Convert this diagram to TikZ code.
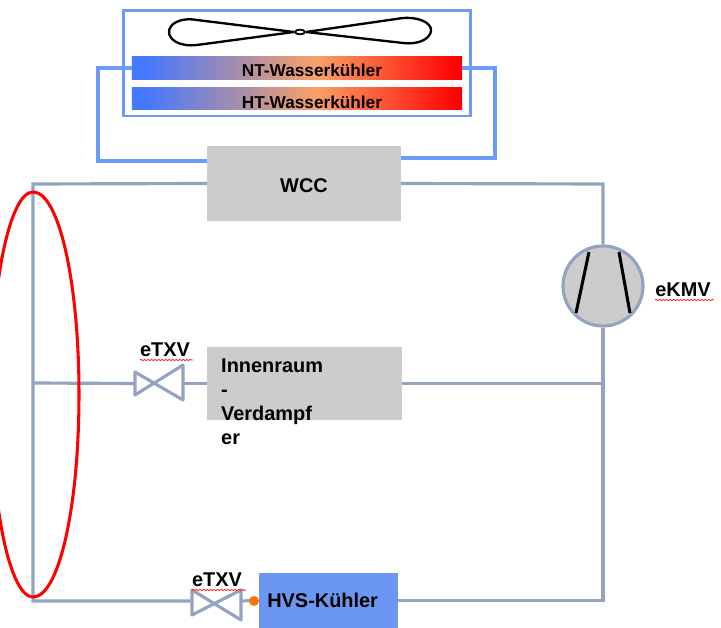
\documentclass[tikz,border=0pt]{standalone}
\usepackage{fontspec}
\setmainfont{Liberation Sans}
\usetikzlibrary{positioning,shapes.geometric,decorations.pathmorphing}
\definecolor{pipegray}{HTML}{94A3C0}
\definecolor{waterblue}{HTML}{6C9CFA}
\definecolor{boxgray}{HTML}{CCCCCC}
\definecolor{hvsblue}{HTML}{6B97F3}
\pgfdeclarehorizontalshading{coolershade}{100bp}{
  rgb(0bp)=(0.27,0.47,1); rgb(27bp)=(0.27,0.47,1); rgb(53bp)=(0.98,0.63,0.40);
  rgb(74.5bp)=(1,0,0); rgb(100bp)=(1,0,0)}
\tikzset{
  pipe/.style={draw=pipegray, line width=2.7pt},
  water/.style={draw=waterblue, line width=2.7pt},
  graybox/.style={fill=boxgray, font=\bfseries\fontsize{17}{20.4}\selectfont, inner sep=0pt},
  cooler/.style={shading=coolershade, minimum width=9.9cm, minimum height=0.68cm, inner sep=0pt,
    font=\bfseries\fontsize{14.7}{17}\selectfont},
  lab/.style={font=\bfseries\fontsize{17}{20.4}\selectfont, inner sep=0pt},
  squiggle/.style={draw=red!85, line width=0.7pt, decorate,
    decoration={snake, amplitude=0.6pt, segment length=3pt}},
}
\begin{document}
\begin{tikzpicture}[x=0.03cm, y=-0.03cm]
  \clip (0,0) rectangle (721,628);
  % radiator housing
  \node[draw=waterblue, line width=2.55pt, minimum width=10.38cm, minimum height=3.15cm, inner sep=0pt] (housing) at (297,63.5) {};
  % water loop
  \node[graybox, minimum width=5.82cm, minimum height=2.25cm] (wcc) at (304,183.5) {\raisebox{-8pt}[0pt][0pt]{WCC}};
  \node[cooler] (nt) at (297,68) {\hspace*{25.5pt}\raisebox{-7pt}[0pt][0pt]{NT-Wasserkühler}};
  \node[cooler] (ht) at (297,98.5) {\hspace*{25.5pt}\raisebox{-8.3pt}[0pt][0pt]{HT-Wasserkühler}};
  \coordinate (wccwl) at (207,161);
  \coordinate (wccwr) at (401,158);
  \draw[water] (nt.west) -| (98,161) -- (wccwl);
  \draw[water] (nt.east) -| (495,158) -- (wccwr);
  % fan
  \draw[line width=2pt] (294,32) -- (197,20) .. controls (180,17) and (169,24) .. (169,32)
    .. controls (169,40) and (180,47) .. (197,45) -- (294,32);
  \draw[line width=2pt] (306,32) -- (403,18) .. controls (420,17) and (431,23) .. (431,30)
    .. controls (431,38) and (420,45) .. (403,43) -- (306,32);
  \node[draw, line width=1.5pt, ellipse, minimum width=0.3cm, minimum height=0.14cm, inner sep=0pt] (hub) at (300,32) {};
  % refrigerant circuit
  \node[graybox, minimum width=5.85cm, minimum height=2.19cm] (evap) at (304.5,383.5) {};
  \node[lab, anchor=north west, align=left, text width=4cm] (evaptext) at (221,359)
    {Innenraum\\-\\Verdampf\\er};
  \node[fill=hvsblue, minimum width=4.17cm, minimum height=1.65cm, inner sep=0pt,
    font=\bfseries\fontsize{17}{20.4}\selectfont] (hvs) at (328.5,600.5) {HVS-Kühler\hspace*{10pt}};
  \node[circle, draw=pipegray, fill=boxgray, line width=2.7pt, minimum size=2.4cm, inner sep=0pt] (ekmv) at (603,286) {};
  \coordinate (topleft) at (33,184);
  \coordinate (botleft) at (33,601);
  \coordinate (midleft) at (33,383);
  \coordinate (topright) at (603,184);
  \coordinate (botright) at (603,600.5);
  \coordinate (midright) at (603,383.5);
  \coordinate (valvea) at (135,383.5);
  \coordinate (valveaout) at (183,383.5);
  \coordinate (valveb) at (192,601);
  \coordinate (valvebout) at (241,601);
  \draw[pipe] (wcc.west) -- (topleft) -- (botleft) -- (valveb);
  \draw[pipe] (wcc.east) -- (topright) -- (ekmv.north);
  \draw[pipe] (ekmv.south) -- (botright) -- (hvs.east);
  \draw[pipe] (midleft) -- (valvea);
  \draw[pipe] (evap.east) -- (midright);
  \draw[pipe] (valveaout) -- (evap.west);
  \draw[pipe] (valvebout) -- (hvs.west);
  % valves
  \draw[pipe, line join=round] (135,372) -- (135,395) -- (183,365) -- (183,400) -- cycle;
  \draw[pipe, line join=round] (192,590) -- (192,615) -- (241,590) -- (241,620) -- cycle;
  \fill[orange!90!red] (254,601) circle (5);
  % compressor blades
  \draw[line width=2.6pt] (589,252) -- (576,313);
  \draw[line width=2.6pt] (619,252) -- (630,313);
  % labels
  \node[lab] (etxva) at (165,350) {eTXV};
  \node[lab] (etxvb) at (217,580) {eTXV};
  \node[lab] (ekmvlab) at (683,290) {eKMV};
  \draw[squiggle] (140,360) -- (193,360);
  \draw[squiggle] (192,590) -- (246,590);
  \draw[squiggle] (655,300) -- (714,300);
  % bypass loop
  \draw[red, line width=2.6pt] (33,192) .. controls (59,192) and (79,282) .. (79,394.5)
    .. controls (79,507) and (59,597) .. (33,597)
    .. controls (10,597) and (-9,507) .. (-9,394.5)
    .. controls (-9,282) and (10,192) .. (33,192) -- cycle;
\end{tikzpicture}
\end{document}
